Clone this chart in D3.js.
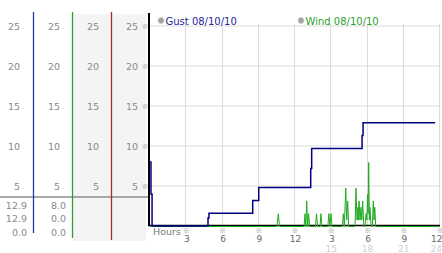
<!DOCTYPE html>
<html>
<head>
<meta charset="utf-8">
<script src="https://cdn.jsdelivr.net/npm/d3@7"></script>
<style>
body { margin: 0; background: #fff; }
svg { display: block; }
text { font-family: "DejaVu Sans", Verdana, sans-serif; }
.mark { font-family: "Noto Sans CJK JP", "Noto Sans CJK SC", sans-serif; }
</style>
</head>
<body>
<svg id="chart" width="442" height="253"></svg>
<script>
// values
const yTicks = [5, 10, 15, 20, 25];
const hourTicks = [3, 6, 9, 12, 15, 18, 21, 24];
const hourLabels = ["3", "6", "9", "12", "3", "6", "9", "12"];
const dayLabels = ["", "", "", "", "15", "18", "21", "24"];
const legendNames = ["Gust 08/10/10", "Wind 08/10/10"];
const gustStats = ["12.9", "12.9", "0.0"];
const windStats = ["8.0", "0.0", "0.0"];

// gust (stepped)
const gustHours  = [0, 0.08, 0.17, 4.8, 4.88, 8.5, 9.0, 13.3, 13.38, 17.55, 17.63, 23.6];
const gustValues = [8.0, 4.0, 0, 1.0, 1.6, 3.2, 4.8, 7.2, 9.7, 11.3, 12.9, 12.9];

// wind (spiky)
const windHours = [0, 10.5, 10.62, 10.72,
  12.75, 12.83, 12.9, 12.97, 13.05, 13.13, 13.22,
  13.7, 13.78, 13.87, 14.07, 14.15, 14.23,
  14.72, 14.8, 14.89, 14.98, 15.07,
  15.92, 16.0, 16.08, 16.2, 16.28, 16.36, 16.45,
  16.97, 17.05, 17.13, 17.2, 17.25, 17.3, 17.38, 17.46, 17.53, 17.6, 17.7,
  17.8, 17.88, 17.95, 18.0, 18.05, 18.1, 18.15, 18.2, 18.3,
  18.4, 18.48, 18.54, 18.6, 18.68, 24];
const windValues = [0, 0, 1.6, 0,
  0, 1.6, 0, 3.2, 0, 1.6, 0,
  0, 1.6, 0, 0, 1.6, 0,
  0, 1.6, 0, 1.6, 0,
  0, 1.6, 0, 4.8, 0.8, 3.2, 0,
  0, 4.8, 0.8, 2.4, 0.8, 3.2, 0.8, 2.4, 0.8, 3.2, 0,
  0, 1.6, 0.8, 4.0, 1.6, 8.0, 0.8, 2.4, 0,
  0, 3.2, 0.8, 2.4, 0, 0];

const svg = d3.select("#chart");

const x = d3.scaleLinear().domain([0, 24]).range([150, 440]);
const y = d3.scaleLinear().domain([0, 25]).range([226, 26]);

// left panel: four columns of y labels
const colEnds = [20, 60, 99, 138];
const colLines = [{x: 33.5, y2: 233, c: "#1f3c9c"}, {x: 72.5, y2: 238, c: "#2e9e2e"}, {x: 111.5, y2: 240, c: "#b02828"}];

svg.append("rect").attr("x", 73).attr("y", 14).attr("width", 73).attr("height", 227).attr("fill", "#f4f4f4");

colEnds.forEach(cx => {
  const g = svg.append("g")
    .attr("transform", `translate(${cx + 3},0)`)
    .call(d3.axisLeft(y).tickValues(yTicks).tickSize(0).tickPadding(3));
  g.select(".domain").remove();
  g.selectAll("text").attr("fill", "#8a8a8a").attr("font-size", 9.5)
    .attr("font-family", '"DejaVu Sans", Verdana, sans-serif');
});

// small markers next to the inner labels
svg.selectAll(".ymark").data(yTicks).enter().append("text")
  .attr("class", "mark")
  .attr("x", 145).attr("y", d => y(d) + 2.5)
  .attr("text-anchor", "middle").attr("font-size", 7).attr("fill", "#999")
  .text("※");

// separator line
svg.append("line").attr("x1", 0).attr("x2", 149).attr("y1", 197).attr("y2", 197)
  .attr("stroke", "#a8a8a8").attr("stroke-width", 2);

colLines.forEach(d => {
  svg.append("line").attr("x1", d.x).attr("x2", d.x).attr("y1", 12).attr("y2", d.y2)
    .attr("stroke", d.c).attr("stroke-width", 1.3);
});

// stats below the separator
const statRows = [209, 222, 236];
[[gustStats, 27], [windStats, 66]].forEach(([vals, ex]) => {
  svg.selectAll(null).data(vals).enter().append("text")
    .attr("x", ex).attr("y", (d, i) => statRows[i])
    .attr("text-anchor", "end").attr("font-size", 9.5).attr("fill", "#8a8a8a")
    .text(d => d);
});

// grid
svg.append("g").selectAll("line").data(yTicks).enter().append("line")
  .attr("x1", x(0)).attr("x2", x(24)).attr("y1", d => y(d)).attr("y2", d => y(d))
  .attr("stroke", "#dcdcdc");
svg.append("g").selectAll("line").data(hourTicks).enter().append("line")
  .attr("x1", d => Math.round(x(d)) - 0.5).attr("x2", d => Math.round(x(d)) - 0.5)
  .attr("y1", 24).attr("y2", y(0))
  .attr("stroke", "#dcdcdc");

// legend
const legend = svg.append("g");
[[161, legendNames[0], "#1e2896"], [301, legendNames[1], "#2ca02c"]].forEach(([lx, name, c]) => {
  legend.append("circle").attr("cx", lx).attr("cy", 20.5).attr("r", 3)
    .attr("fill", "#a0a0a0").attr("stroke", "#d0d0d0");
  legend.append("text").attr("x", lx + 4.5).attr("y", 24.5)
    .attr("font-size", 10).attr("fill", c).text(name);
});

// series
const windData = windHours.map((h, i) => [h, windValues[i]]);
const gustData = gustHours.map((h, i) => [h, gustValues[i]]);

// axes lines
svg.append("line").attr("x1", 149).attr("x2", 149).attr("y1", 13).attr("y2", y(0))
  .attr("stroke", "#000").attr("stroke-width", 2);
svg.append("line").attr("x1", 148).attr("x2", 440).attr("y1", y(0) - 0.5).attr("y2", y(0) - 0.5)
  .attr("stroke", "#000").attr("stroke-width", 1.5);

svg.append("path").datum(windData)
  .attr("fill", "none").attr("stroke", "#22aa22").attr("stroke-width", 1)
  .attr("d", d3.line().x(d => x(d[0])).y(d => y(d[1]) + 0.5));

svg.append("path").datum(gustData)
  .attr("fill", "none").attr("stroke", "#000080").attr("stroke-width", 1.5)
  .attr("d", d3.line().curve(d3.curveStepAfter).x(d => x(d[0])).y(d => y(d[1])));

// bottom axis
svg.append("text").attr("x", 153).attr("y", 235).attr("font-size", 9.5).attr("fill", "#777").text("Hours");

const last = hourTicks.length - 1;
const xAxis = svg.append("g")
  .attr("transform", `translate(0,${y(0)})`)
  .call(d3.axisBottom(x).tickValues(hourTicks).tickSize(0).tickPadding(9.5)
    .tickFormat((d, i) => hourLabels[i]));
xAxis.select(".domain").remove();
xAxis.selectAll("text").attr("fill", "#666").attr("font-size", 9)
  .attr("font-family", '"DejaVu Sans", Verdana, sans-serif')
  .attr("text-anchor", (d, i) => i === last ? "end" : "middle")
  .attr("dx", (d, i) => i === last ? 2 : 0);

svg.selectAll(".xday").data(hourTicks).enter().append("text")
  .attr("class", "xday")
  .attr("x", (d, i) => i === last ? x(d) + 2 : x(d)).attr("y", 252)
  .attr("text-anchor", (d, i) => i === last ? "end" : "middle")
  .attr("font-size", 9).attr("fill", "#d0d0d0")
  .text((d, i) => dayLabels[i]);

svg.selectAll(".xmark").data(hourTicks).enter().append("text")
  .attr("class", "mark")
  .attr("x", d => x(d)).attr("y", 233)
  .attr("text-anchor", "middle").attr("font-size", 7).attr("fill", "#999")
  .text("※");
</script>
</body>
</html>
